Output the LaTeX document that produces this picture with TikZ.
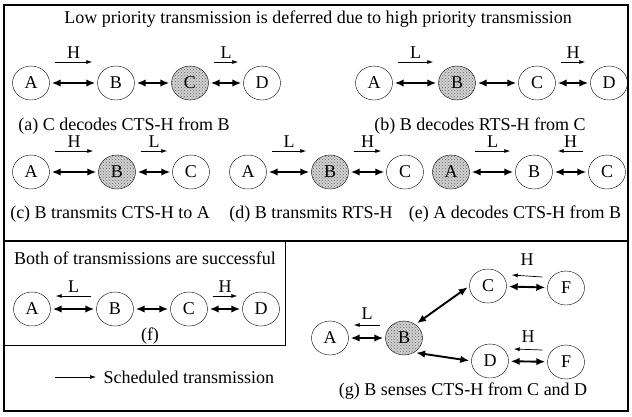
\documentclass[tikz,border=0pt]{standalone}
\usepackage{fontspec}
\setmainfont{Liberation Serif}
\usetikzlibrary{arrows.meta,shapes.geometric,patterns}

\begin{document}
\begin{tikzpicture}[x=1pt,y=-1pt,
  every node/.style={font=\fontsize{18}{21}\selectfont},
  stn/.style={draw, ellipse, minimum width=37pt, minimum height=34pt, inner sep=0pt},
  busy/.style={stn, fill=black!18, postaction={pattern=crosshatch dots, pattern color=black!60}},
  link/.style={{Latex[length=9pt,width=7.5pt]}-{Latex[length=9pt,width=7.5pt]}, line width=1.9pt, shorten <=2pt, shorten >=2pt},
  txa/.style={-{Latex[length=6pt,width=4pt]}, line width=0.7pt},
  lbl/.style={above, inner sep=3.5pt}]
  \useasboundingbox (0,0) rectangle (632,416);

  % Frames
  \draw[line width=1.1pt] (4,5) rectangle (628,411);
  \draw[line width=1.6pt] (4,241) -- (628,241);
  \draw[line width=0.8pt] (285,241) -- (285,345) -- (4,345);

  \node (top) at (318,19) {Low priority transmission is deferred due to high priority transmission};

  % (a)
  \node[stn] (aA) at (31,83) {A};
  \node[stn] (aB) at (116,83) {B};
  \node[busy] (aC) at (190,83) {C};
  \node[stn] (aD) at (262,83) {D};
  \draw[link] (aA) -- (aB);
  \draw[link] (aB) -- (aC);
  \draw[link] (aC) -- (aD);
  \draw[txa] ([shift={(5,-21)}]aA.east) -- ([shift={(-5,-21)}]aB.west) node[midway,lbl] {H};
  \draw[txa] ([shift={(5,-21)}]aC.east) -- ([shift={(-5,-21)}]aD.west) node[midway,lbl] {L};
  \node (capa) at (124,126) {(a) C decodes CTS-H from B};

  % (b)
  \node[stn] (bA) at (374,83) {A};
  \node[busy] (bB) at (457,83) {B};
  \node[stn] (bC) at (537,83) {C};
  \node[stn] (bD) at (609,83) {D};
  \draw[link] (bA) -- (bB);
  \draw[link] (bB) -- (bC);
  \draw[link] (bC) -- (bD);
  \draw[txa] ([shift={(5,-21)}]bA.east) -- ([shift={(-5,-21)}]bB.west) node[midway,lbl] {L};
  \draw[txa] ([shift={(5,-21)}]bC.east) -- ([shift={(-5,-21)}]bD.west) node[midway,lbl] {H};
  \node (capb) at (480,126) {(b) B decodes RTS-H from C};

  % (c)
  \node[stn] (cA) at (31,172) {A};
  \node[busy] (cB) at (117,172) {B};
  \node[stn] (cC) at (191,172) {C};
  \draw[link] (cA) -- (cB);
  \draw[link] (cB) -- (cC);
  \draw[txa] ([shift={(5,-21)}]cA.east) -- ([shift={(-5,-21)}]cB.west) node[midway,lbl] {H};
  \draw[txa] ([shift={(5,-21)}]cB.east) -- ([shift={(-5,-21)}]cC.west) node[midway,lbl] {L};
  \node (capc) at (110,214) {(c) B transmits CTS-H to A};

  % (d)
  \node[stn] (dA) at (248,172) {A};
  \node[busy] (dB) at (330,172) {B};
  \node[stn] (dC) at (405,172) {C};
  \draw[link] (dA) -- (dB);
  \draw[link] (dB) -- (dC);
  \draw[txa] ([shift={(5,-21)}]dA.east) -- ([shift={(-5,-21)}]dB.west) node[midway,lbl] {L};
  \draw[txa] ([shift={(5,-21)}]dB.east) -- ([shift={(-5,-21)}]dC.west) node[midway,lbl] {H};
  \node (capd) at (311,214) {(d) B transmits RTS-H};

  % (e)
  \node[busy] (eA) at (451,172) {A};
  \node[stn] (eB) at (534,172) {B};
  \node[stn] (eC) at (607,172) {C};
  \draw[link] (eA) -- (eB);
  \draw[link] (eB) -- (eC);
  \draw[txa] ([shift={(5,-21)}]eA.east) -- ([shift={(-5,-21)}]eB.west) node[midway,lbl] {L};
  \draw[txa] ([shift={(-5,-21)}]eC.west) -- ([shift={(5,-21)}]eB.east) node[midway,lbl] {H};
  \node (cape) at (515,214) {(e) A decodes CTS-H from B};

  % (f)
  \node (ftop) at (145,258) {Both of transmissions are successful};
  \node[stn] (fA) at (32,309) {A};
  \node[stn] (fB) at (115,309) {B};
  \node[stn] (fC) at (189,309) {C};
  \node[stn] (fD) at (261,309) {D};
  \draw[link] (fA) -- (fB);
  \draw[link] (fB) -- (fC);
  \draw[link] (fC) -- (fD);
  \draw[txa] ([shift={(-5,-13)}]fB.west) -- ([shift={(5,-13)}]fA.east) node[midway,lbl] {L};
  \draw[txa] ([shift={(5,-13)}]fC.east) -- ([shift={(-5,-13)}]fD.west) node[midway,lbl] {H};
  \node (capf) at (150,336) {(f)};

  % legend
  \coordinate (lgs) at (55,377);
  \node[anchor=west] (lgt) at (100,377) {Scheduled transmission};
  \draw[txa] (lgs) -- ([xshift=-4pt]lgt.west);

  % (g)
  \node[stn] (gA) at (330,338) {A};
  \node[busy] (gB) at (404,338) {B};
  \node[stn] (gC) at (488,286) {C};
  \node[stn] (gF) at (566,288) {F};
  \node[stn] (gD) at (490,361) {D};
  \node[stn] (gG) at (566,362) {F};
  \draw[link] (gA) -- (gB);
  \draw[link] (gB.50) -- (gC.west);
  \draw[link] (gB.-55) -- (gD.west);
  \draw[link] (gC) -- (gF);
  \draw[link] (gD) -- (gG);
  \draw[txa] ([shift={(-5,-13)}]gB.west) -- ([shift={(5,-13)}]gA.east) node[midway,lbl,yshift=2pt] {L};
  \draw[txa] ([shift={(-5,-11)}]gF.west) -- ([shift={(5,-11)}]gC.east) node[midway,lbl,yshift=7pt] {H};
  \draw[txa] ([shift={(-5,-12)}]gG.west) -- ([shift={(5,-12)}]gD.east) node[midway,lbl,yshift=3pt] {H};
  \node (capg) at (463,391) {(g) B senses CTS-H from C and D};
\end{tikzpicture}
\end{document}
